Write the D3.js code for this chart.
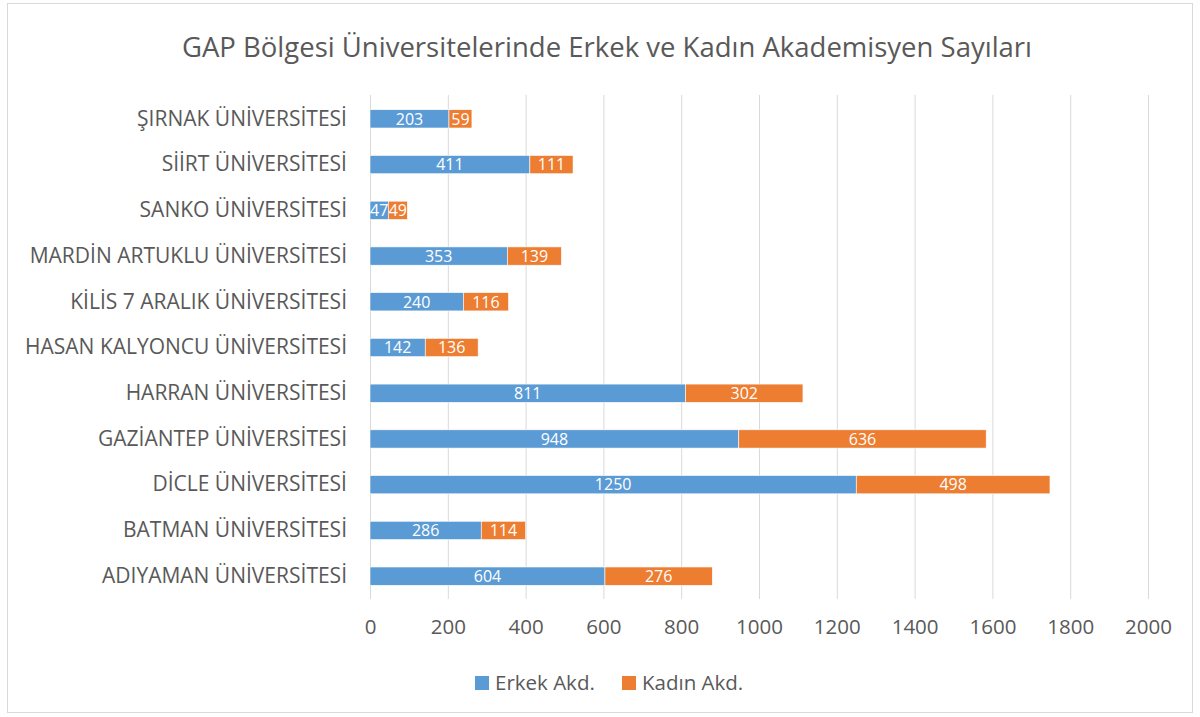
<!DOCTYPE html>
<html>
<head>
<meta charset="utf-8">
<script src="https://cdn.jsdelivr.net/npm/d3@7"></script>
<style>
  body { margin: 0; background: #fff; }
  text { font-family: "Open Sans", "Noto Sans", sans-serif; }
</style>
</head>
<body>
<svg id="chart" width="1200" height="717"></svg>
<script>
const universities = [
    "ŞIRNAK ÜNİVERSİTESİ",
    "SİİRT ÜNİVERSİTESİ",
    "SANKO ÜNİVERSİTESİ",
    "MARDİN ARTUKLU ÜNİVERSİTESİ",
    "KİLİS 7 ARALIK ÜNİVERSİTESİ",
    "HASAN KALYONCU ÜNİVERSİTESİ",
    "HARRAN ÜNİVERSİTESİ",
    "GAZİANTEP ÜNİVERSİTESİ",
    "DİCLE ÜNİVERSİTESİ",
    "BATMAN ÜNİVERSİTESİ",
    "ADIYAMAN ÜNİVERSİTESİ"
];
const erkek = [203, 411, 47, 353, 240, 142, 811, 948, 1250, 286, 604];
const kadin = [59, 111, 49, 139, 116, 136, 302, 636, 498, 114, 276];
const seriesNames = ["Erkek Akd.", "Kadın Akd."];
const xTicks = [0, 200, 400, 600, 800, 1000, 1200, 1400, 1600, 1800, 2000];

const svg = d3.select("#chart"),
    colors = ["#5B9BD5", "#ED7D31"],
    textColor = "#595959";

// chart frame
svg.append("rect")
    .attr("x", 7.5).attr("y", 3.5)
    .attr("width", 1185).attr("height", 709)
    .attr("fill", "#fff")
    .attr("stroke", "#D9D9D9");

svg.append("text")
    .attr("x", 607).attr("y", 57)
    .attr("text-anchor", "middle")
    .attr("font-size", 27.5)
    .attr("fill", textColor)
    .text("GAP Bölgesi Üniversitelerinde Erkek ve Kadın Akademisyen Sayıları");

const x = d3.scaleLinear().domain([0, 2000]).range([370, 1148]);
const y = d3.scaleBand().domain(universities).range([96, 599]).paddingInner(0.6).paddingOuter(0.3);

// gridlines
svg.append("g")
    .selectAll("line")
    .data(xTicks)
    .enter()
    .append("line")
    .attr("x1", function (d) { return x(d) + 0.5; })
    .attr("x2", function (d) { return x(d) + 0.5; })
    .attr("y1", 95)
    .attr("y2", 599)
    .attr("stroke", "#D9D9D9")
    .attr("stroke-width", 1);

const rows = universities.map(function (u, i) {
    return { name: u, erkek: erkek[i], kadin: kadin[i] };
});
const stacked = d3.stack().keys(["erkek", "kadin"])(rows);

const layers = svg.append("g")
    .selectAll("g")
    .data(stacked)
    .enter()
    .append("g")
    .attr("fill", function (d, i) { return colors[i]; });

layers.selectAll("rect")
    .data(function (d) { return d; })
    .enter()
    .append("rect")
    .attr("x", function (d) { return x(d[0]); })
    .attr("y", function (d) { return y(d.data.name); })
    .attr("width", function (d) { return x(d[1]) - x(d[0]); })
    .attr("height", y.bandwidth())
    .attr("stroke", "#fff")
    .attr("stroke-width", 0.6);

layers.selectAll("text")
    .data(function (d) { return d; })
    .enter()
    .append("text")
    .attr("x", function (d) { return (x(d[0]) + x(d[1])) / 2; })
    .attr("y", function (d) { return y(d.data.name) + y.bandwidth() / 2; })
    .attr("dy", "0.36em")
    .attr("text-anchor", "middle")
    .attr("font-size", 16)
    .attr("fill", "#fff")
    .text(function (d) { return d[1] - d[0]; });

// category axis
const yAxis = svg.append("g")
    .attr("transform", "translate(347,0)")
    .call(d3.axisLeft(y).tickSize(0).tickPadding(0));
yAxis.select(".domain").remove();
yAxis.selectAll("text")
    .attr("font-size", 21)
    .attr("fill", textColor)
    .attr("font-family", "\"Open Sans\", sans-serif");

// value axis
const xAxis = svg.append("g")
    .attr("transform", "translate(0,612)")
    .call(d3.axisBottom(x).tickValues(xTicks).tickFormat(d3.format("d")).tickSize(0).tickPadding(7));
xAxis.select(".domain").remove();
xAxis.selectAll("text")
    .attr("font-size", 20.5)
    .attr("fill", textColor)
    .attr("font-family", "\"Open Sans\", sans-serif");

// legend
const legend = svg.append("g")
    .selectAll("g")
    .data(seriesNames)
    .enter()
    .append("g")
    .attr("transform", function (d, i) { return "translate(" + (475 + i * 147) + ",676)"; });
legend.append("rect")
    .attr("width", 14).attr("height", 14)
    .attr("fill", function (d, i) { return colors[i]; });
legend.append("text")
    .attr("x", 20).attr("y", 7)
    .attr("dy", "0.36em")
    .attr("font-size", 20.5)
    .attr("fill", textColor)
    .text(function (d) { return d; });
</script>
</body>
</html>
